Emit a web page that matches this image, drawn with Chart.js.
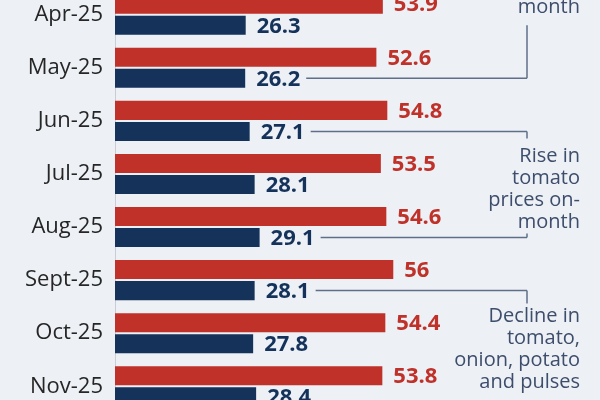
<!DOCTYPE html>
<html>
<head>
<meta charset="utf-8">
<script src="https://cdn.jsdelivr.net/npm/chart.js@4"></script>
<style>
  html, body { margin:0; padding:0; width:600px; height:400px; overflow:hidden; background:#edf0f5; }
  #wrap { position:absolute; left:0; top:-37px; width:600px; height:475px; }
</style>
</head>
<body>
<div id="wrap"><canvas id="c" width="600" height="475"></canvas></div>
<script>
const categories = ['Apr-25','May-25','Jun-25','Jul-25','Aug-25','Sept-25','Oct-25','Nov-25'];
const seriesRed  = [53.9, 52.6, 54.8, 53.5, 54.6, 56, 54.4, 53.8];
const seriesNavy = [26.3, 26.2, 27.1, 28.1, 29.1, 28.1, 27.8, 28.4];
const noteFrom  = ['Apr-25', 'Jun-25', 'Sept-25'];
const noteTo    = ['May-25', 'Aug-25', null];
const noteMode  = ['above', 'between', 'below'];
const noteText  = [
  ['month'],
  ['Rise in', 'tomato', 'prices on-', 'month'],
  ['Decline in', 'tomato,', 'onion, potato', 'and pulses']
];

const RED = '#bf3129', NAVY = '#14325a', NOTE = '#3d4d6c', LINE = '#5f6f8a';
const FONT = '"Open Sans", "DejaVu Sans", sans-serif';

const labelsPlugin = {
  id: 'valueLabels',
  afterDatasetsDraw(chart) {
    const ctx = chart.ctx;
    ctx.save();
    ctx.font = 'bold 22px ' + FONT;
    ctx.textBaseline = 'middle';
    ctx.textAlign = 'left';
    const ends = [];
    chart.data.datasets.forEach((ds, di) => {
      const meta = chart.getDatasetMeta(di);
      meta.data.forEach((el, i) => {
        ctx.fillStyle = ds.backgroundColor;
        const txt = String(ds.data[i]);
        const x = el.x + 11;
        ctx.fillText(txt, x, el.y + 1);
        if (di === 1) ends[i] = { x: x + ctx.measureText(txt).width, y: el.y };
      });
    });
    // annotations
    const bx = 527, tx = 580, lh = 22;
    ctx.strokeStyle = LINE;
    ctx.lineWidth = 1.5;
    ctx.fillStyle = NOTE;
    ctx.font = '20px ' + FONT;
    ctx.textAlign = 'right';
    ctx.textBaseline = 'alphabetic';
    const navy = chart.getDatasetMeta(1).data;
    const hline = (i) => {
      ctx.beginPath();
      ctx.moveTo(ends[i].x + 6, navy[i].y);
      ctx.lineTo(bx, navy[i].y);
      ctx.stroke();
    };
    const vline = (y1, y2) => {
      ctx.beginPath(); ctx.moveTo(bx, y1); ctx.lineTo(bx, y2); ctx.stroke();
    };
    noteFrom.forEach((f, k) => {
      const fi = categories.indexOf(f);
      const ti = noteTo[k] ? categories.indexOf(noteTo[k]) : -1;
      const lines = noteText[k];
      const yF = navy[fi].y;
      if (noteMode[k] === 'above') {
        const yT = navy[ti].y;
        hline(ti);
        vline(yF, yT);
        lines.forEach((l, j) => ctx.fillText(l, tx, yF - 12 - (lines.length - 1 - j) * lh));
      } else if (noteMode[k] === 'between') {
        const yT = navy[ti].y;
        hline(fi); hline(ti);
        vline(yF, yF + 7);
        vline(yT - 4, yT);
        lines.forEach((l, j) => ctx.fillText(l, tx, yF + 31 + j * lh));
      } else {
        hline(fi);
        vline(yF, yF + 13);
        lines.forEach((l, j) => ctx.fillText(l, tx, yF + 31 + j * lh));
      }
    });
    ctx.restore();
  }
};

new Chart(document.getElementById('c'), {
  type: 'bar',
  data: {
    labels: categories,
    datasets: [
      { data: seriesRed, backgroundColor: RED, borderWidth: 0, barPercentage: 0.905, categoryPercentage: 0.792 },
      { data: seriesNavy, backgroundColor: NAVY, borderWidth: 0, barPercentage: 0.905, categoryPercentage: 0.792 }
    ]
  },
  options: {
    indexAxis: 'y',
    responsive: false,
    animation: false,
    layout: { padding: 0 },
    plugins: { legend: { display: false }, tooltip: { enabled: false } },
    scales: {
      x: { display: false, min: 0, max: 97.6 },
      y: {
        grid: { display: false, drawTicks: false },
        border: { display: true, color: '#c9ced6', width: 1 },
        ticks: { color: '#262626', padding: 12, font: { family: FONT, size: 22 } },
        afterFit(scale) { scale.width = 115; }
      }
    }
  },
  plugins: [labelsPlugin]
});
</script>
</body>
</html>
